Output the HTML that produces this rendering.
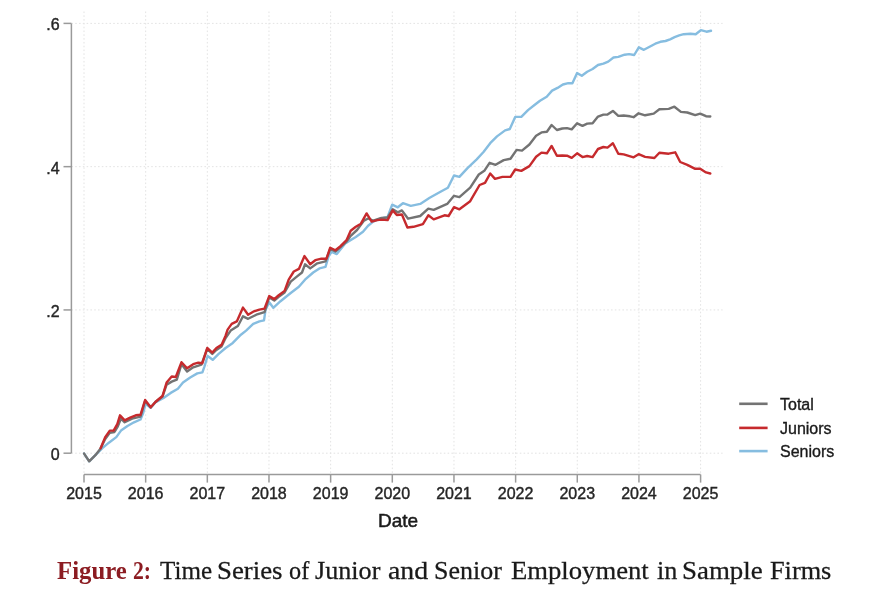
<!DOCTYPE html>
<html><head><meta charset="utf-8"><style>
html,body{margin:0;padding:0;background:#fff;}
body{width:879px;height:593px;overflow:hidden;position:relative;filter:blur(0.4px);}
svg{position:absolute;left:0;top:0;}
.cap{position:absolute;top:555.2px;-webkit-text-stroke:0.25px #1a1a1a;white-space:nowrap;font-family:"Liberation Serif",serif;font-size:23px;color:#1a1a1a;transform-origin:0 0;line-height:30px;}
.b{color:#8c1c22;font-weight:bold;-webkit-text-stroke:0;}
</style></head><body>
<svg width="879" height="593" viewBox="0 0 879 593">
<g stroke="#e3e3e3" stroke-width="1" stroke-dasharray="1.6 2.2" fill="none">
<line x1="84.00" y1="11.5" x2="84.00" y2="474.5" /><line x1="145.66" y1="11.5" x2="145.66" y2="474.5" /><line x1="207.32" y1="11.5" x2="207.32" y2="474.5" /><line x1="268.98" y1="11.5" x2="268.98" y2="474.5" /><line x1="330.64" y1="11.5" x2="330.64" y2="474.5" /><line x1="392.30" y1="11.5" x2="392.30" y2="474.5" /><line x1="453.96" y1="11.5" x2="453.96" y2="474.5" /><line x1="515.62" y1="11.5" x2="515.62" y2="474.5" /><line x1="577.28" y1="11.5" x2="577.28" y2="474.5" /><line x1="638.94" y1="11.5" x2="638.94" y2="474.5" /><line x1="700.60" y1="11.5" x2="700.60" y2="474.5" /><line x1="71.4" y1="453.20" x2="722.6" y2="453.20" /><line x1="71.4" y1="309.93" x2="722.6" y2="309.93" /><line x1="71.4" y1="166.66" x2="722.6" y2="166.66" /><line x1="71.4" y1="23.39" x2="722.6" y2="23.39" />
</g>
<g stroke="#9a9a9a" stroke-width="1.5" fill="none">
<line x1="71.4" y1="23.39" x2="71.4" y2="453.2" />
<line x1="84.0" y1="474.5" x2="700.60" y2="474.5" />
<line x1="63.5" y1="453.20" x2="71.4" y2="453.20" /><line x1="63.5" y1="309.93" x2="71.4" y2="309.93" /><line x1="63.5" y1="166.66" x2="71.4" y2="166.66" /><line x1="63.5" y1="23.39" x2="71.4" y2="23.39" /><line x1="84.00" y1="474.5" x2="84.00" y2="482.6" /><line x1="145.66" y1="474.5" x2="145.66" y2="482.6" /><line x1="207.32" y1="474.5" x2="207.32" y2="482.6" /><line x1="268.98" y1="474.5" x2="268.98" y2="482.6" /><line x1="330.64" y1="474.5" x2="330.64" y2="482.6" /><line x1="392.30" y1="474.5" x2="392.30" y2="482.6" /><line x1="453.96" y1="474.5" x2="453.96" y2="482.6" /><line x1="515.62" y1="474.5" x2="515.62" y2="482.6" /><line x1="577.28" y1="474.5" x2="577.28" y2="482.6" /><line x1="638.94" y1="474.5" x2="638.94" y2="482.6" /><line x1="700.60" y1="474.5" x2="700.60" y2="482.6" />
</g>
<g font-family="Liberation Sans, Arial, sans-serif" font-size="16" fill="#262626" stroke="#262626" stroke-width="0.4">
<text x="59.6" y="460.10" text-anchor="end">0</text><text x="59.6" y="316.83" text-anchor="end">.2</text><text x="59.6" y="173.56" text-anchor="end">.4</text><text x="59.6" y="30.29" text-anchor="end">.6</text><text x="84.00" y="498.6" text-anchor="middle">2015</text><text x="145.66" y="498.6" text-anchor="middle">2016</text><text x="207.32" y="498.6" text-anchor="middle">2017</text><text x="268.98" y="498.6" text-anchor="middle">2018</text><text x="330.64" y="498.6" text-anchor="middle">2019</text><text x="392.30" y="498.6" text-anchor="middle">2020</text><text x="453.96" y="498.6" text-anchor="middle">2021</text><text x="515.62" y="498.6" text-anchor="middle">2022</text><text x="577.28" y="498.6" text-anchor="middle">2023</text><text x="638.94" y="498.6" text-anchor="middle">2024</text><text x="700.60" y="498.6" text-anchor="middle">2025</text>
</g>
<text x="398" y="526.6" text-anchor="middle" font-family="Liberation Sans, Arial, sans-serif" font-size="19" fill="#1a1a1a" stroke="#1a1a1a" stroke-width="0.5">Date</text>
<g fill="none" stroke-width="2.4" stroke-linejoin="round" stroke-linecap="round">
<polyline stroke="#86bde0" points="84.1,453.6 89.2,461.3 95.4,455.2 102.4,448.2 108.9,442.7 116.3,437.1 121,430.6 127.5,426 134,422.3 140.5,419.5 143.2,413 145.6,403.7 150.7,407.8 155.4,402.5 163.5,398 170.7,392.9 177.9,388.8 183,382.6 190.2,377.5 197.3,373.4 202.4,372.4 204.5,366.3 207.6,356 212.7,359.8 218.4,354.1 225.6,348 232.8,342.9 240.9,334.7 246.1,330.6 253.2,323.9 259.4,321.4 264,320.4 265.5,310.1 269.2,302.2 273.3,307.8 280.5,301.2 290.7,293 298.9,286.8 305,279.7 313.2,272.5 319.4,268.4 325.5,266.9 328.6,256.1 331.6,252 336.8,254.1 345.6,243.1 355.8,237 363,231.8 368.1,225.7 373.2,221.6 379.4,219 387.6,217 392.2,204.7 397.8,207.3 402.9,203.2 410.8,205.9 420.2,203.9 429.7,197.8 440.5,191.7 447.9,187.7 454,175.5 459.4,176.9 467.5,168.1 476.7,159.4 483.5,152 490.2,143.2 497,136.4 505.1,130.4 509.8,129 515.2,116.9 521.3,116.9 528,110.1 534.8,104.7 540,100.7 546.7,96.7 552.1,90.6 557.5,87.9 562.9,84.5 568.3,83.2 572.4,83.2 577.1,73.1 581.8,75.8 587.2,71.7 592.6,69 598,65 603.4,63.6 608.2,61.6 613.5,57.5 618.3,56.9 624.6,54.7 629.1,54.1 634.2,55 638.8,47.3 643.9,49.8 649.6,46.7 655.3,43.7 660.4,41.8 665.5,41 670.1,39.3 674.6,37.1 679.2,35.4 683.7,34.2 690.5,33.7 695.7,34.2 700.8,30.2 706.5,31.7 711,30.8" />
<polyline stroke="#737373" points="84.1,453.6 89.2,461.3 95.4,455.2 100.6,448.5 105.2,439 109.8,432.9 114.5,432 117.5,427 121,418.6 124.7,422.3 132.1,418.6 140.5,416.7 145.1,401 150.7,407.5 155.4,402 162.5,396.5 166.6,384.7 171.7,381.6 176.8,379.6 181.5,364.2 187.1,371.4 193.2,367.3 201.4,364.7 207.2,349 212.3,354 216.4,350 221.5,346.5 225.6,338 230.7,330.6 237.9,326 243,316.3 248.1,318.8 256.3,314.7 264.5,312.2 269.2,297.5 274.3,300.5 278.4,297 284.6,292.5 290.7,281.7 296.8,276.6 302,272.5 305,264.3 310.2,268.4 317.3,263.3 325.5,261.3 330.2,249 335.4,251.5 340.5,247 346.6,241.5 350.7,235.9 357,230 364,220.6 368.1,218.5 373.2,220.6 381.4,218 387.6,217.5 392.7,209.3 397.8,212.4 401.9,210.4 408.1,218.7 420.2,216 428.3,208.6 433.7,209.9 447.2,203.9 454,195.8 459.4,197.1 470.2,187.7 478.8,174.5 484.3,170.8 489.6,162.8 495.6,164.8 503.7,160.1 510.5,158.7 516.6,149.9 522,150.6 529.4,144.5 536.1,135.8 541.5,132.4 546.9,131.7 551.6,125 556.9,130 562.3,128.5 567,128.1 571.7,129.4 577.1,123.3 582.5,125.8 587.2,123.6 592.6,123.3 598,116.6 603.4,114.6 607.5,114.6 612.9,110.9 618.3,115.9 623.7,115.5 630,116.3 633.6,117.2 638.6,113.3 645.1,115.3 653.7,113.6 659.4,109.3 668.7,108.9 674.4,106.7 680.9,111.9 687.3,112.5 695.2,115.1 700.2,113.6 706,116.2 710.3,116.5" />
<polyline stroke="#c62a2d" points="100.6,448.2 105.2,437.1 109.8,430.6 113.6,430.6 117.3,424.1 120,415.3 124.7,420.4 130.2,417.6 135.8,415.3 140.5,414.8 145.1,400 150.7,407.2 155.4,402 162.5,396 166.6,382.6 171.7,376.5 175.8,377 181.5,362.2 187.1,368.3 193.2,364.2 198.3,362.7 202.4,363.2 207.2,348 212.3,352.6 216.4,348 221.5,344.9 225.6,335.7 227.6,329.6 231.7,323.9 236.8,321.4 243,307.6 248.1,314.7 253.2,311.7 259.4,309.6 264.5,308.6 269.2,296.1 274.3,299.1 278.4,295.5 284.6,290.9 288.7,279.7 293.8,271.5 298.9,268.9 304.5,256.1 310.2,264.3 315.3,260.2 321.4,258.7 326.5,258.7 330.2,247.7 335.4,250.3 340.5,246.2 346.6,240 350.7,230.8 355.8,226.7 360.9,223.7 366.6,213.4 371.7,221.6 377.3,220.1 381.4,219.6 387.6,220.1 392.7,210.4 396.8,215 401.9,214.5 407.4,227.5 413.5,226.8 422.9,224.1 428.3,215.3 433.7,219.4 444.5,215.3 448.6,216 454,207.2 459.4,209.3 470.2,201.2 479.6,185 485,182.9 490.2,173.5 495,178.9 502.4,176.9 510.5,176.9 515.2,169.5 521.3,170.9 529.4,166.1 536.1,156.7 541.5,152.6 546.9,153.3 551.6,145.9 556.9,155.7 562.3,155.5 567,155.7 571.7,157.8 577.1,153.3 582.5,157.1 587.2,156 592.6,157.1 598,149 603.4,147 607.5,147.6 612.9,143.3 618.3,153.7 623.7,154.4 633.6,157.3 638.6,154.2 645.1,156.9 654.4,158 659.4,152.7 668.7,153.7 675.2,152.3 680.2,162 687.3,164.9 695.2,168.8 700.2,168.8 706,172.4 710.3,173.5" />
</g>
<g stroke-width="2.6" fill="none">
<line x1="739.2" y1="403.8" x2="767.6" y2="403.8" stroke="#737373"/>
<line x1="739.2" y1="427.9" x2="767.6" y2="427.9" stroke="#c62a2d"/>
<line x1="739.2" y1="451.1" x2="767.6" y2="451.1" stroke="#86bde0"/>
</g>
<g font-family="Liberation Sans, Arial, sans-serif" font-size="16" fill="#1a1a1a" stroke="#1a1a1a" stroke-width="0.35">
<text x="780" y="409.6">Total</text>
<text x="780" y="433.6">Juniors</text>
<text x="780" y="456.8">Seniors</text>
</g>
</svg>
<div class="cap b" style="left:56.50px;top:555.90px;transform:scale(1.0766,1.05)">Figure</div>
<div class="cap b" style="left:133.46px;top:555.90px;transform:scale(0.9437,1.05)">2:</div>
<div class="cap" style="left:160.10px;top:555.02px;transform:scale(1.0894,1.09)">Time</div>
<div class="cap" style="left:217.37px;top:555.02px;transform:scale(1.1660,1.09)">Series</div>
<div class="cap" style="left:288.54px;top:555.02px;transform:scale(1.0556,1.09)">of</div>
<div class="cap" style="left:315.30px;top:555.02px;transform:scale(1.1368,1.09)">Junior</div>
<div class="cap" style="left:387.89px;top:555.02px;transform:scale(1.2094,1.09)">and</div>
<div class="cap" style="left:434.14px;top:555.02px;transform:scale(1.1293,1.09)">Senior</div>
<div class="cap" style="left:510.64px;top:555.02px;transform:scale(1.1593,1.09)">Employment</div>
<div class="cap" style="left:656.56px;top:555.02px;transform:scale(1.1375,1.09)">in</div>
<div class="cap" style="left:682.06px;top:555.02px;transform:scale(1.1697,1.09)">Sample</div>
<div class="cap" style="left:769.66px;top:555.02px;transform:scale(1.1423,1.09)">Firms</div>
</body></html>
